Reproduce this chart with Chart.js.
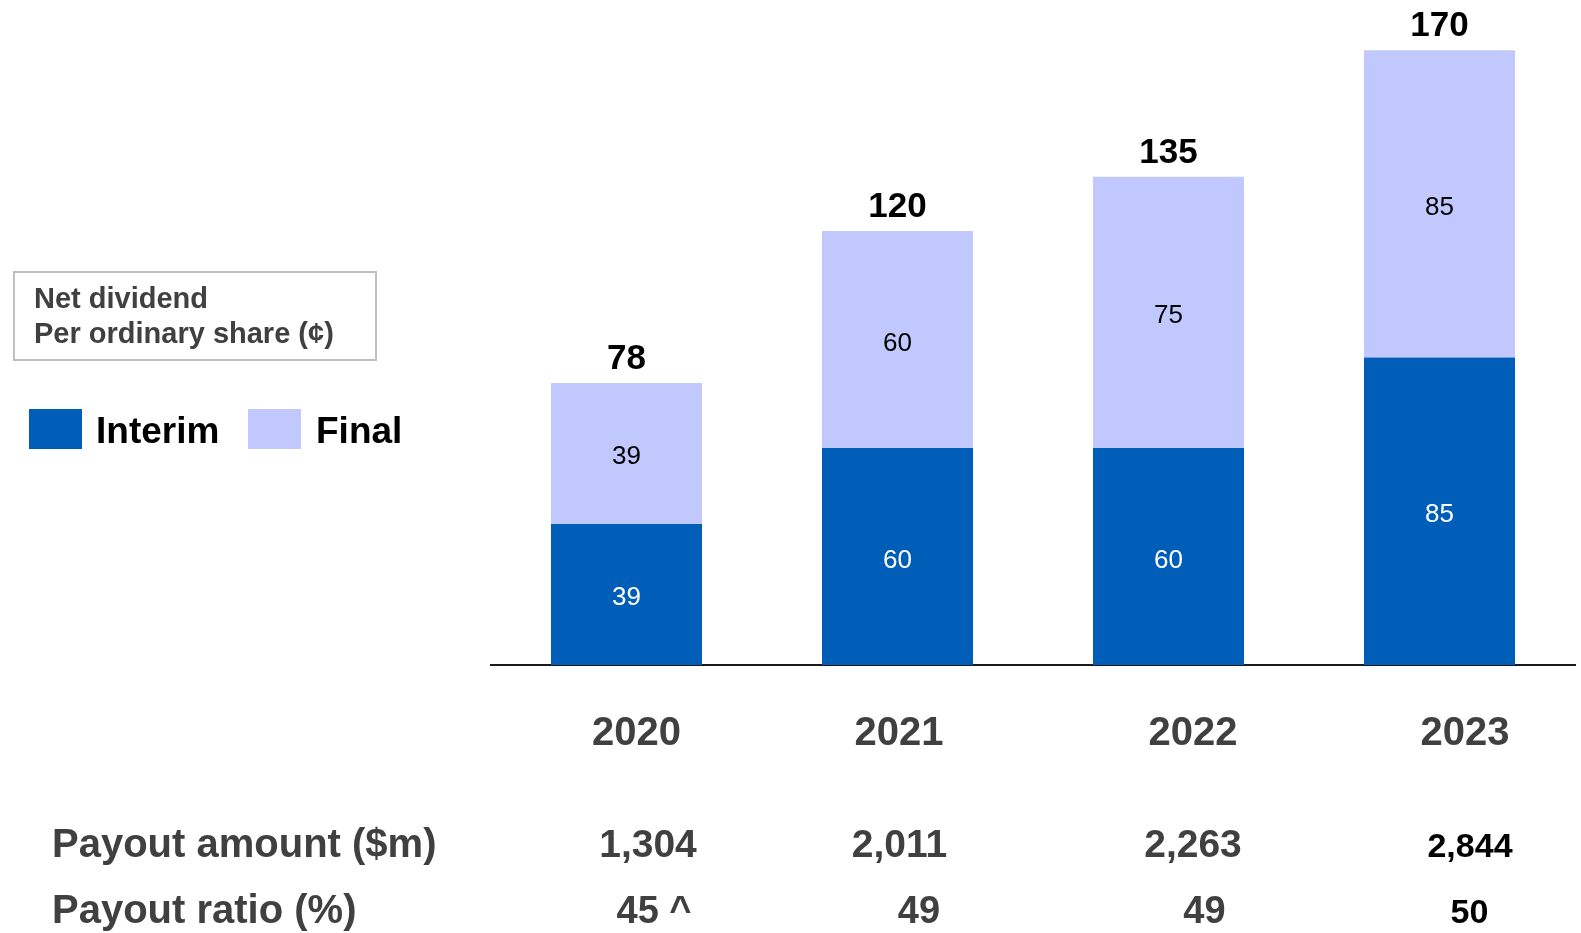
<!DOCTYPE html>
<html>
<head>
<meta charset="utf-8">
<title>Net dividend per ordinary share</title>
<script src="https://cdn.jsdelivr.net/npm/chart.js@4.4.1/dist/chart.umd.min.js"></script>
<style>
  html, body { margin: 0; padding: 0; background: #ffffff; }
  #wrap { width: 1581px; height: 933px; position: relative; }
  canvas { display: block; }
</style>
</head>
<body>
<div id="wrap"><canvas id="chart" width="1581" height="933"></canvas></div>
<script>
// ---- data ----
const categories = ['2020', '2021', '2022', '2023'];
const seriesNames = ['Interim', 'Final'];
const interimValues = [39, 60, 60, 85];
const finalValues = [39, 60, 75, 85];
const payoutAmounts = ['1,304', '2,011', '2,263', '2,844'];
const payoutRatios = ['45 ^', '49', '49', '50'];
const boxTitle = ['Net dividend', 'Per ordinary share (¢)'];
const rowTitles = ['Payout amount ($m)', 'Payout ratio (%)'];

// ---- styling ----
const FONT = '"Liberation Sans", Arial, Helvetica, sans-serif';
const COLOR_INTERIM = '#005EB8';
const COLOR_FINAL = '#C0C8FE';
const GREY_TEXT = '#404040';

// horizontal nudges of the table text relative to each column centre
const yearShift = [10, 1.5, 24.5, 25.5];
const amountShift = [21.5, 2, 24.5, 30.5];
const ratioShift = [27.5, 21.5, 36, 30];

const annotations = {
  id: 'annotations',
  afterDatasetsDraw(chart) {
    const ctx = chart.ctx;
    const x = chart.scales.x;
    const metaI = chart.getDatasetMeta(0);
    const metaF = chart.getDatasetMeta(1);
    ctx.save();

    // values inside each segment
    ctx.textAlign = 'center';
    ctx.textBaseline = 'alphabetic';
    ctx.font = '26px ' + FONT;
    [metaI, metaF].forEach((meta, di) => {
      const values = di === 0 ? interimValues : finalValues;
      ctx.fillStyle = di === 0 ? '#ffffff' : '#000000';
      meta.data.forEach((bar, i) => {
        const mid = (bar.y + bar.base) / 2;
        ctx.fillText(String(values[i]), bar.x, mid + 11);
      });
    });

    // totals above bars
    ctx.font = 'bold 35px ' + FONT;
    ctx.fillStyle = '#000000';
    metaF.data.forEach((bar, i) => {
      const total = interimValues[i] + finalValues[i];
      ctx.fillText(String(total), bar.x, bar.y - 14);
    });

    // year labels
    ctx.font = 'bold 40px ' + FONT;
    ctx.fillStyle = GREY_TEXT;
    categories.forEach((c, i) => {
      ctx.fillText(c, x.getPixelForValue(i) + yearShift[i], 745);
    });

    // table rows
    payoutAmounts.forEach((v, i) => {
      const last = i === payoutAmounts.length - 1;
      ctx.font = (last ? 'bold 34px ' : 'bold 39px ') + FONT;
      ctx.fillStyle = last ? '#000000' : GREY_TEXT;
      ctx.fillText(v, x.getPixelForValue(i) + amountShift[i], 857);
    });
    payoutRatios.forEach((v, i) => {
      const last = i === payoutRatios.length - 1;
      ctx.font = (last ? 'bold 34px ' : 'bold 38px ') + FONT;
      ctx.fillStyle = last ? '#000000' : GREY_TEXT;
      ctx.fillText(v, x.getPixelForValue(i) + ratioShift[i], 923);
    });

    ctx.textAlign = 'left';
    ctx.font = 'bold 40px ' + FONT;
    ctx.fillStyle = GREY_TEXT;
    ctx.fillText(rowTitles[0], 52, 857);
    ctx.fillText(rowTitles[1], 52, 923);

    // unit box
    ctx.strokeStyle = '#BFBFBF';
    ctx.lineWidth = 2;
    ctx.strokeRect(14, 272, 362, 88);
    ctx.font = 'bold 29px ' + FONT;
    ctx.fillStyle = GREY_TEXT;
    ctx.fillText(boxTitle[0], 34, 308);
    ctx.fillText(boxTitle[1], 34, 343);

    // legend
    const swatchX = [29, 248];
    const textX = [96, 316];
    chart.data.datasets.forEach((ds, i) => {
      ctx.fillStyle = ds.backgroundColor;
      ctx.fillRect(swatchX[i], 409, 53, 40);
      ctx.fillStyle = '#000000';
      ctx.font = 'bold 37px ' + FONT;
      ctx.fillText(ds.label, textX[i], 443);
    });

    ctx.restore();
  }
};

new Chart(document.getElementById('chart'), {
  type: 'bar',
  data: {
    labels: categories,
    datasets: [
      { label: seriesNames[0], data: interimValues, backgroundColor: COLOR_INTERIM },
      { label: seriesNames[1], data: finalValues, backgroundColor: COLOR_FINAL }
    ]
  },
  options: {
    responsive: false,
    animation: false,
    events: [],
    layout: { padding: { left: 491, right: 6, top: 14, bottom: 268 } },
    datasets: {
      bar: { barPercentage: 1, categoryPercentage: 0.5572, borderWidth: 0 }
    },
    plugins: {
      legend: { display: false },
      tooltip: { enabled: false },
      title: { display: false }
    },
    scales: {
      x: {
        stacked: true,
        grid: { display: false, drawTicks: false },
        ticks: { display: false },
        border: { display: true, color: '#1a1a1a', width: 2 },
        afterFit(scale) { scale.height = 0; }
      },
      y: {
        stacked: true,
        display: false,
        min: 0,
        max: 180
      }
    }
  },
  plugins: [annotations]
});
</script>
</body>
</html>
